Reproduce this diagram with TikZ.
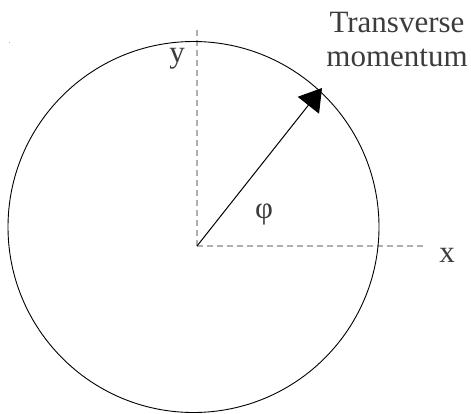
\documentclass[tikz,border=0pt]{standalone}
\usepackage{fontspec}
\setmainfont{Liberation Serif}
\usetikzlibrary{arrows.meta}
\definecolor{labelgray}{RGB}{60,60,60}
\definecolor{axisgray}{RGB}{175,175,175}
\begin{document}
\begin{tikzpicture}[x=1pt,y=-1pt,
  axisline/.style={draw=axisgray,line width=1.3pt,dash pattern=on 6pt off 4pt},
  lbl/.style={text=labelgray,inner sep=0pt,anchor=base,font=\fontsize{31}{35}\selectfont},
  vec/.style={draw=black,line width=1pt,-{Triangle[length=22pt,width=27pt]}}]
\useasboundingbox (0,0) rectangle (471,413);
\coordinate (o) at (197,246);
\coordinate (xend) at (423,246);
\coordinate (yend) at (197,30);
\coordinate (tip) at (322,88);
\coordinate (c) at (193.5,227);
\draw[axisline] (o) -- (xend);
\draw[axisline] (o) -- (yend);
\draw[black,line width=0.9pt] (c) circle[radius=185.5];
\draw[vec] (o) -- (tip);
\node[lbl] (ylab) at (177,62) {y};
\node[lbl] (xlab) at (447,262) {x};
\node[lbl] (philab) at (264,218) {φ};
\node[lbl] (t1) at (397,32) {Transverse};
\node[lbl] (t2) at (397,66) {momentum};
\fill[axisgray] (8.5,41.5) rectangle (10,43);
\end{tikzpicture}
\end{document}
